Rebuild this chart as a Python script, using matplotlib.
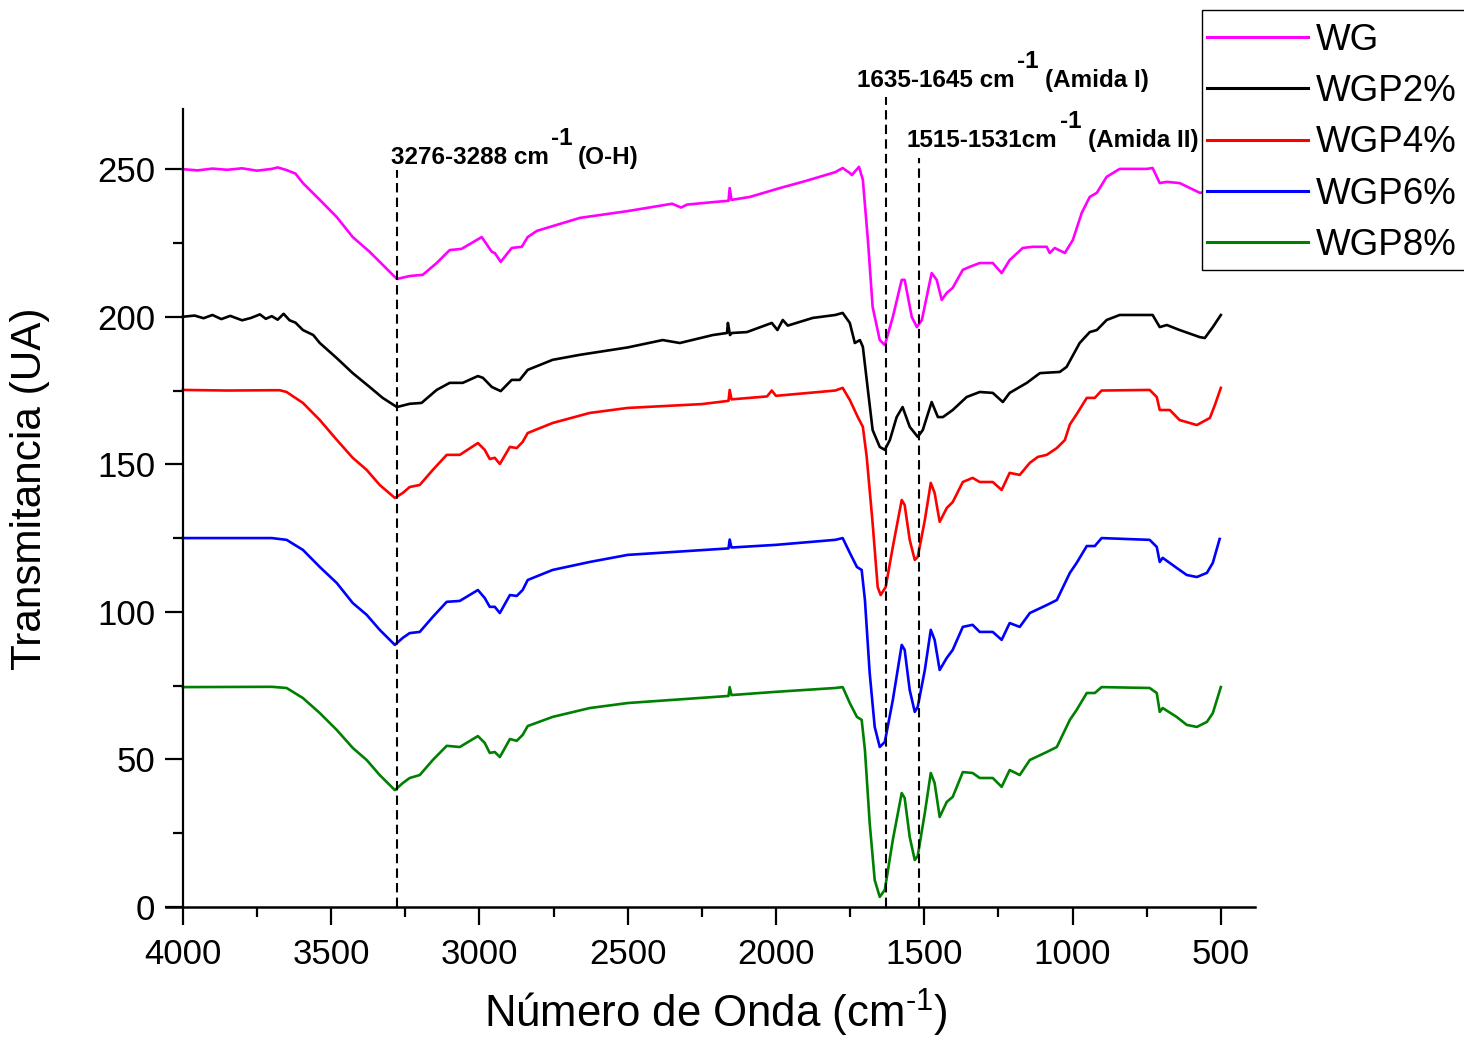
import matplotlib
matplotlib.use("Agg")
import matplotlib.pyplot as plt
from matplotlib.ticker import MultipleLocator
from matplotlib.patches import Rectangle

plt.rcParams['font.family'] = ['Liberation Sans', 'DejaVu Sans']
plt.rcParams['mathtext.fontset'] = 'custom'
plt.rcParams['mathtext.rm'] = 'Liberation Sans'
plt.rcParams['mathtext.it'] = 'Liberation Sans:italic'
plt.rcParams['mathtext.bf'] = 'Liberation Sans:bold'

# ---------------- data ----------------
labels = ["WG", "WGP2%", "WGP4%", "WGP6%", "WGP8%"]
colors = ["#FF00FF", "#000000", "#FF0000", "#0000FF", "#008000"]

wg_x = [4000, 3950, 3900, 3850, 3800, 3750, 3700, 3680, 3650, 3620, 3595, 3538, 3481, 3427,
        3370, 3326, 3278, 3235, 3191, 3144, 3100, 3060, 2992, 2958, 2948, 2928, 2891, 2857,
        2837, 2806, 2661, 2500, 2350, 2320, 2300, 2206, 2160, 2156, 2150, 2088, 1987, 1900,
        1800, 1775, 1751, 1744, 1720, 1707, 1690, 1674, 1650, 1633, 1606, 1576, 1566, 1542,
        1525, 1508, 1475, 1458, 1441, 1424, 1404, 1370, 1347, 1313, 1269, 1239, 1212, 1168,
        1134, 1087, 1077, 1060, 1026, 999, 969, 942, 918, 885, 841, 750, 730, 706, 682, 639,
        571, 530, 500]
wg_y = [250.0, 249.6, 250.2, 249.8, 250.3, 249.5, 250.1, 250.6, 249.7, 248.5, 245.3, 239.6,
        233.8, 227.0, 222.0, 217.6, 212.8, 213.8, 214.2, 218.2, 222.6, 223.0, 227.0, 222.0,
        221.6, 218.6, 223.3, 223.7, 227.0, 229.1, 233.5, 235.8, 238.3, 237.0, 238.0, 238.9,
        239.3, 243.6, 239.6, 240.6, 243.6, 246.0, 249.0, 250.4, 248.7, 248.0, 250.8, 246.4,
        226.0, 203.3, 192.1, 190.4, 199.9, 212.5, 212.5, 199.9, 196.5, 198.9, 214.8, 212.5,
        205.7, 208.1, 209.8, 215.9, 216.9, 218.2, 218.2, 214.8, 219.2, 223.3, 223.7, 223.7,
        221.6, 223.3, 221.6, 226.0, 235.2, 240.6, 242.0, 247.4, 250.1, 250.1, 250.4, 245.3,
        245.7, 245.3, 242.0, 242.5, 248.0]

wgp2_x = [4000, 3960, 3930, 3900, 3870, 3840, 3800, 3770, 3740, 3720, 3700, 3680, 3660, 3640,
          3620, 3595, 3560, 3538, 3481, 3427, 3370, 3326, 3278, 3235, 3195, 3144, 3100, 3056,
          3005, 2988, 2958, 2928, 2891, 2864, 2837, 2753, 2661, 2500, 2382, 2324, 2213, 2165,
          2162, 2155, 2149, 2098, 2014, 1995, 1977, 1960, 1876, 1800, 1775, 1751, 1734, 1717,
          1707, 1690, 1674, 1650, 1633, 1616, 1593, 1573, 1549, 1522, 1505, 1475, 1454, 1437,
          1404, 1357, 1313, 1269, 1235, 1212, 1154, 1110, 1043, 1020, 976, 942, 918, 885, 841,
          730, 706, 682, 639, 571, 554, 527, 500]
wgp2_y = [200.0, 200.4, 199.5, 200.6, 199.2, 200.3, 198.8, 199.6, 200.8, 199.3, 200.2, 199.0,
          201.0, 198.8, 198.0, 195.5, 193.8, 191.1, 186.0, 180.9, 176.2, 172.5, 169.4, 170.5,
          170.8, 175.2, 177.6, 177.6, 179.9, 179.3, 176.2, 174.8, 178.6, 178.6, 182.0, 185.4,
          187.1, 189.6, 192.1, 191.1, 193.8, 194.5, 197.9, 193.8, 194.5, 194.8, 197.9, 195.5,
          198.9, 197.0, 199.6, 200.6, 201.3, 197.9, 191.1, 192.1, 189.8, 175.2, 161.6, 155.9,
          154.9, 158.2, 166.0, 169.4, 162.7, 159.3, 161.6, 171.1, 166.0, 166.0, 168.4, 172.8,
          174.5, 174.2, 171.1, 174.2, 177.6, 180.9, 181.3, 183.0, 191.1, 194.8, 195.5, 198.9,
          200.6, 200.6, 196.5, 197.2, 195.5, 193.1, 192.8, 196.5, 200.6]

wgp4_x = [4000, 3850, 3700, 3673, 3650, 3595, 3538, 3481, 3427, 3380, 3336, 3285, 3258, 3235,
          3201, 3157, 3110, 3066, 3005, 2982, 2965, 2948, 2931, 2897, 2874, 2854, 2837, 2753,
          2628, 2500, 2250, 2160, 2156, 2150, 2030, 2014, 2000, 1800, 1775, 1751, 1724, 1707,
          1694, 1674, 1657, 1647, 1630, 1606, 1576, 1566, 1549, 1532, 1522, 1498, 1478, 1465,
          1448, 1424, 1404, 1370, 1337, 1313, 1269, 1239, 1212, 1178, 1144, 1117, 1087, 1053,
          1026, 1009, 986, 952, 925, 902, 740, 716, 706, 672, 639, 581, 537, 520, 500]
wgp4_y = [175.2, 175.0, 175.1, 175.1, 174.5, 170.8, 165.0, 158.3, 152.2, 148.1, 143.0, 138.6,
          140.3, 142.3, 143.0, 148.1, 153.2, 153.2, 157.2, 154.9, 151.8, 152.2, 150.1, 155.9,
          155.5, 157.6, 160.6, 164.0, 167.4, 169.1, 170.4, 171.5, 175.2, 172.0, 173.0, 175.0,
          173.2, 175.0, 175.9, 171.8, 166.0, 162.7, 152.5, 130.0, 108.4, 105.7, 108.4, 122.0,
          137.9, 136.2, 124.4, 117.6, 118.6, 131.1, 143.7, 140.3, 130.5, 135.2, 137.2, 144.0,
          145.4, 144.0, 144.0, 141.3, 147.1, 146.4, 150.5, 152.5, 153.2, 155.5, 158.2, 163.5,
          167.0, 172.5, 172.5, 175.0, 175.2, 172.8, 168.4, 168.4, 165.0, 163.3, 165.7, 170.1,
          175.9]

wgp6_x = [4000, 3700, 3650, 3595, 3538, 3481, 3427, 3380, 3336, 3285, 3258, 3235, 3201, 3157,
          3110, 3066, 3005, 2982, 2965, 2948, 2931, 2897, 2874, 2854, 2837, 2753, 2628, 2500,
          2160, 2156, 2150, 2000, 1800, 1775, 1751, 1727, 1711, 1700, 1684, 1667, 1650, 1633,
          1606, 1576, 1566, 1549, 1532, 1522, 1498, 1478, 1465, 1448, 1424, 1404, 1370, 1337,
          1313, 1269, 1239, 1212, 1178, 1144, 1087, 1053, 1009, 986, 952, 925, 902, 740, 716,
          706, 696, 649, 615, 581, 547, 527, 504]
wgp6_y = [125.0, 125.0, 124.4, 121.0, 115.2, 109.8, 103.0, 99.0, 93.9, 88.8, 91.2, 92.8, 93.2,
          98.3, 103.4, 103.7, 107.4, 104.7, 101.7, 101.7, 99.6, 105.7, 105.4, 107.4, 110.8,
          114.2, 116.9, 119.3, 121.5, 124.5, 121.8, 122.7, 124.4, 125.0, 120.0, 115.2, 114.2,
          104.0, 79.3, 61.0, 54.2, 55.9, 70.1, 88.8, 87.1, 73.5, 66.1, 67.8, 80.3, 93.9, 90.5,
          80.3, 84.4, 87.1, 94.9, 95.6, 93.2, 93.2, 90.5, 96.2, 94.9, 99.6, 102.3, 104.0, 113.2,
          116.6, 122.3, 122.3, 125.0, 124.4, 122.0, 116.9, 118.3, 114.9, 112.5, 111.8, 113.2,
          116.6, 124.7]

wgp8_x = [4000, 3700, 3650, 3595, 3538, 3481, 3427, 3380, 3336, 3285, 3258, 3235, 3201, 3157,
          3110, 3066, 3005, 2982, 2965, 2948, 2931, 2897, 2874, 2854, 2837, 2753, 2628, 2500,
          2160, 2156, 2150, 2000, 1800, 1775, 1751, 1727, 1711, 1700, 1684, 1667, 1650, 1633,
          1606, 1576, 1566, 1549, 1532, 1522, 1498, 1478, 1465, 1448, 1424, 1404, 1370, 1337,
          1313, 1269, 1239, 1212, 1178, 1144, 1087, 1053, 1009, 986, 952, 925, 902, 740, 716,
          706, 696, 649, 615, 581, 547, 527, 500]
wgp8_y = [74.5, 74.6, 74.2, 70.8, 65.7, 60.0, 53.9, 49.8, 44.7, 39.6, 42.0, 43.7, 44.7, 49.8,
          54.6, 54.2, 57.9, 55.6, 52.2, 52.5, 50.8, 56.9, 56.3, 58.3, 61.3, 64.4, 67.4, 69.1,
          71.5, 74.5, 71.8, 72.9, 74.2, 74.5, 69.1, 64.4, 63.4, 53.2, 28.5, 9.1, 3.4, 5.8, 22.7,
          38.6, 36.9, 23.7, 15.9, 17.3, 31.9, 45.4, 42.0, 30.5, 35.6, 37.3, 45.7, 45.4, 43.7,
          43.7, 40.7, 46.4, 44.7, 49.8, 52.5, 54.2, 63.4, 66.8, 72.5, 72.5, 74.5, 74.2, 72.5,
          66.1, 67.4, 64.4, 61.7, 61.0, 62.7, 65.7, 74.5]

series_x = [wg_x, wgp2_x, wgp4_x, wgp6_x, wgp8_x]
series_y = [wg_y, wgp2_y, wgp4_y, wgp6_y, wgp8_y]

# reference band positions (dashed lines) and their top ends
band_pos = [3278, 1630, 1519]
band_top = [249.7, 274.5, 253.8]

xticks = [4000, 3500, 3000, 2500, 2000, 1500, 1000, 500]
yticks = [0, 50, 100, 150, 200, 250]

# ---------------- figure ----------------
W, H = 1464, 1042
fig = plt.figure(figsize=(W / 100, H / 100), dpi=100)
ax = fig.add_axes([0.1131, 0.1296, 0.7441, 0.7658])

for xs, ys, c, lab in zip(series_x, series_y, colors, labels):
    ax.plot(xs, ys, color=c, lw=1.9, label=lab, solid_joinstyle='round')

for bx, bt in zip(band_pos, band_top):
    ax.plot([bx, bx], [0, bt], color='black', lw=1.5, dashes=(4.5, 2.5), clip_on=False)

ax.set_xlim(4058, 385)
ax.set_ylim(0, 270.4)

for s in ['top', 'right']:
    ax.spines[s].set_visible(False)
ax.spines['left'].set_position(('data', 4000))
ax.spines['left'].set_linewidth(1.6)
ax.spines['bottom'].set_linewidth(1.8)

ax.set_xticks(xticks)
ax.set_yticks(yticks)
ax.xaxis.set_minor_locator(MultipleLocator(250))
ax.yaxis.set_minor_locator(MultipleLocator(25))
ax.tick_params(which='major', direction='out', length=13, width=1.6, labelsize=25, pad=7)
ax.tick_params(which='minor', direction='out', length=7, width=1.6)
ax.tick_params(axis='x', which='major', pad=9)

ax.set_xlabel("Número de Onda (cm$^{\\text{-1}}$)", fontsize=31.5)
ax.xaxis.label.set_va('baseline')
ax.xaxis.set_label_coords(0.5052, -0.1516)
ax.set_ylabel("Transmitancia (UA)", fontsize=30.4)
ax.yaxis.label.set_va('center')
ax.yaxis.set_label_coords(-0.1245, 0.524)

# annotations
afs = 17.5
def ann(x, y, s):
    ax.text(x, y, s, fontsize=afs, fontweight='bold', ha='left', va='baseline', clip_on=False)

ann(3299, 251.8, "3276-3288 cm")
ann(2759, 258.2, "-1")
ann(2668, 251.8, "(O-H)")
ann(1728, 277.9, "1635-1645 cm")
ann(1188, 284.3, "-1")
ann(1094, 277.9, "(Amida I)")
ann(1559, 257.5, "1515-1531cm")
ann(1043, 264.0, "-1")
ann(949, 257.5, "(Amida II)")

# legend box (extends past the right edge of the figure, as in the reference)
box = Rectangle((1202 / W, 1 - 270 / H), 300 / W, 260 / H, transform=fig.transFigure,
                facecolor='white', edgecolor='black', lw=1.0, zorder=4)
fig.add_artist(box)

handles, labs = ax.get_legend_handles_labels()
leg = fig.legend(handles, labs, loc='upper left',
                 bbox_to_anchor=(1207 / W, 1 - 23 / H),
                 borderaxespad=0, fontsize=26.5, handlelength=2.75, handletextpad=0.22,
                 labelspacing=0.44, frameon=False, borderpad=0)
leg.set_zorder(5)
for l in leg.get_lines():
    l.set_linewidth(2.2)

fig.savefig("out.png", dpi=100)
